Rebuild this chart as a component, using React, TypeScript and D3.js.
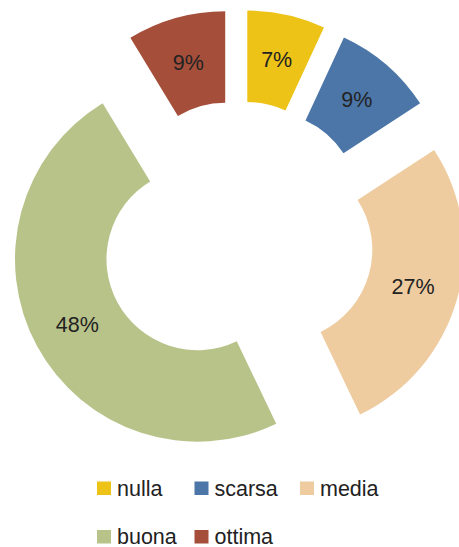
import React, { useEffect, useRef } from 'react';
import * as d3 from 'd3';

const categories = ['nulla', 'scarsa', 'media', 'buona', 'ottima'];
const values = [6.9, 8.9, 27.1, 48.4, 8.7];
const colors = ['#EDC318', '#4B76A7', '#EECCA0', '#B8C38A', '#A54F3A'];

// legend layout: [row, x of swatch]
const legendPos: [number, number][] = [[0, 97], [0, 194.5], [0, 300], [1, 97], [1, 194.5]];

const App = () => {
  const ref = useRef<SVGSVGElement>(null);

  useEffect(() => {
    const width = 459;
    const height = 547;
    const cx = 237.5;
    const cy = 237.5;
    const outerR = 182.5;
    const innerR = 91;
    const explode = 45.5;
    const font = '"Liberation Sans", Arial, Helvetica, sans-serif';

    const svg = d3.select(ref.current);
    svg.selectAll('*').remove();
    svg.attr('width', width).attr('height', height);

    const data = categories.map((c, i) => ({ name: c, value: values[i], color: colors[i] }));

    const pie = d3.pie<any>().sort(null).value(d => d.value);
    const arc = d3.arc<any>().innerRadius(innerR).outerRadius(outerR);
    const arcs = pie(data);

    const g = svg.append('g').attr('transform', `translate(${cx},${cy})`);

    const slice = g.selectAll('g.slice')
      .data(arcs)
      .join('g')
      .attr('class', 'slice')
      .attr('transform', d => {
        const mid = (d.startAngle + d.endAngle) / 2;
        return `translate(${Math.sin(mid) * explode},${-Math.cos(mid) * explode})`;
      });

    slice.append('path')
      .attr('d', arc)
      .attr('fill', d => d.data.color);

    const total = d3.sum(values);
    slice.append('text')
      .attr('transform', d => `translate(${arc.centroid(d)})`)
      .attr('text-anchor', 'middle')
      .attr('dy', '0.36em')
      .attr('font-family', font)
      .attr('font-size', 21.5)
      .attr('fill', '#222')
      .text(d => `${Math.round(d.data.value / total * 100)}%`);

    const legend = svg.append('g');
    const item = legend.selectAll('g')
      .data(data)
      .join('g')
      .attr('transform', (d, i) => `translate(${legendPos[i][1]},${481.5 + legendPos[i][0] * 48.5})`);

    item.append('rect')
      .attr('width', 14)
      .attr('height', 13.5)
      .attr('fill', d => d.color);

    item.append('text')
      .attr('x', 20)
      .attr('y', 14)
      .attr('font-family', font)
      .attr('font-size', 21.5)
      .attr('fill', '#222')
      .text(d => d.name);
  }, []);

  return (
    <svg ref={ref} style={{ position: 'absolute', left: 0, top: 0, display: 'block' }}></svg>
  );
};

export default App;
